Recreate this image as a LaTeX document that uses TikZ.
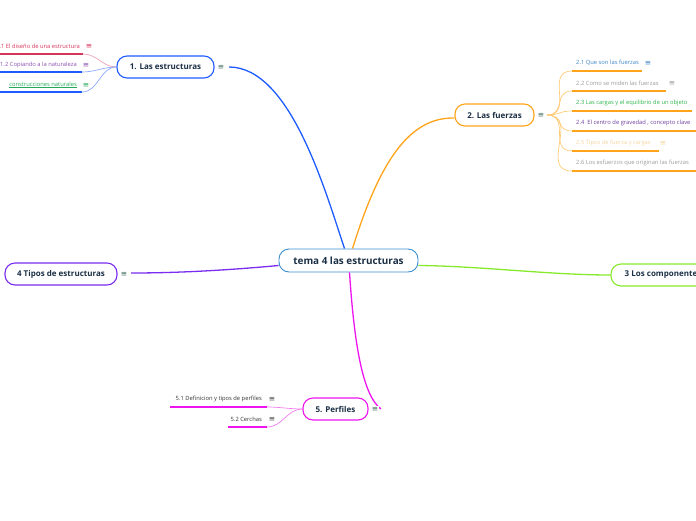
\documentclass[tikz,border=0pt]{standalone}
\usepackage{fontspec}
\setmainfont{Open Sans}
\setsansfont{Open Sans}
\newfontfamily\symfont{DejaVu Sans}
\usetikzlibrary{positioning}
\definecolor{cText}{HTML}{1B2F45}
\definecolor{cIcon}{HTML}{3F6A5C}
\definecolor{cMain}{HTML}{3A8FD0}
\definecolor{cEst}{HTML}{1F5CFF}
\definecolor{cFuer}{HTML}{FFA31A}
\definecolor{cFuerL}{HTML}{FFCB78}
\definecolor{cTip}{HTML}{7A2CF0}
\definecolor{cComp}{HTML}{86EA2C}
\definecolor{cPerf}{HTML}{EE14EE}
\definecolor{cPerfL}{HTML}{F27EF2}
\definecolor{cRed}{HTML}{D6345A}
\definecolor{cRedL}{HTML}{EBA2B4}
\definecolor{cBlueL}{HTML}{8DA9FF}
\definecolor{cPur}{HTML}{8A4FB0}
\definecolor{cGreen}{HTML}{23A85A}
\definecolor{cSkyT}{HTML}{3D85C6}
\definecolor{cGrayT}{HTML}{9A9A9A}
\definecolor{cLeaf}{HTML}{2DB34A}
\definecolor{cViol}{HTML}{6E3FA0}
\definecolor{cPale}{HTML}{F3D5A0}

\begin{document}
\begin{tikzpicture}[
  x=1pt, y=-1pt,
  topic/.style={rectangle, rounded corners=10pt, draw, line width=1.1pt, fill=white, minimum height=22pt, inner sep=0pt, font=\sffamily\bfseries\fontsize{8}{9}\selectfont, text=cText},
  sub/.style={inner sep=0pt, font=\sffamily\fontsize{5.8}{6.5}\selectfont},
  icon/.style={inner sep=0.6pt, fill=white, font=\symfont\fontsize{7.5}{7.5}\selectfont, text=cIcon},
  branch/.style={line width=1.3pt},
  twig/.style={line width=0.7pt},
  uline/.style={line width=1.8pt}
]
\useasboundingbox (0,0) rectangle (696,520);

% central topic
\node[topic, draw=cMain, line width=0.9pt, minimum width=139pt, minimum height=23pt, font=\sffamily\bfseries\fontsize{9.9}{11}\selectfont] (C) at (348.5,260.5) {tema 4 las estructuras};

% main topics
\node[topic, draw=cEst, minimum width=97pt] (T1) at (165.5,67) {1. Las estructuras};
\node[topic, draw=cFuer, minimum width=79pt] (T2) at (494.5,115) {2. Las fuerzas};
\node[topic, draw=cComp, minimum width=104pt, align=left] (T3) at (663,275) {3 Los componentes};
\node[topic, draw=cTip, minimum width=112pt] (T4) at (61,274) {4 Tipos de estructuras};
\node[topic, draw=cPerf, minimum width=65pt] (T5) at (335.5,409) {5. Perfiles};

% branches
\coordinate (b1) at (229,67);
\coordinate (b4) at (131,273);
\coordinate (b5) at (381,409);
\draw[branch, cEst] ([xshift=-4pt]C.north) .. controls (325,190) and (290,67) .. (b1);
\draw[branch, cFuer] ([xshift=4pt]C.north) .. controls (380,160) and (410,117) .. ([yshift=-3pt]T2.west);
\draw[branch, cTip] ([yshift=-5pt]C.west) .. controls (230,270) and (180,273) .. (b4);
\draw[branch, cComp] ([yshift=-5pt]C.east) .. controls (480,266) and (550,275) .. (T3.west);
\draw[branch, cPerf] ([xshift=1pt]C.south) .. controls (354,340) and (362,395) .. (b5);

\node[icon] (i1) at (221,67) {≡};
\node[icon] (i2) at (541,115) {≡};
\node[icon] (i4) at (124,274) {≡};
\node[icon] (i5) at (375,409) {≡};

% 1. Las estructuras
\node[sub, anchor=east, text=cRed] (s11) at (80,46) {1.1 El diseño de una estructura};
\node[sub, anchor=east, text=cPur] (s12) at (77,65) {1.2 Copiando a la naturaleza};
\node[sub, anchor=east, text=cGreen] (s13) at (77,85) {\underline{construcciones naturales}};
\node[icon, text=cRed] (i11) at (89,46) {≡};
\node[icon, text=cPur] (i12) at (86,65) {≡};
\node[icon, text=cGreen] (i13) at (86,85) {≡};
\coordinate (u11) at (83,54);
\coordinate (u12) at (82,72);
\coordinate (u13) at (82,92);
\draw[uline, cRed] (u11) -- (0,54);
\draw[uline, cEst] (u12) -- (0,72);
\draw[uline, cEst] (u13) -- (0,92);
\draw[twig, cRedL] (T1.west) to[out=180, in=0] (u11);
\draw[twig, cBlueL] (T1.west) to[out=180, in=0] (u12);
\draw[twig, cBlueL] (T1.west) to[out=180, in=0] (u13);

% 2. Las fuerzas
\coordinate (f0) at (547,115);
\node[sub, anchor=west, text=cSkyT] (s21) at (576,63) {2.1 Que son las fuerzas};
\node[sub, anchor=west, text=cGrayT] (s22) at (576,83) {2.2 Como se miden las fuerzas};
\node[sub, anchor=west, text=cLeaf] (s23) at (576,103) {2.3 Las cargas y el equilibrio de un objeto};
\node[sub, anchor=west, text=cViol] (s24) at (576,123) {2.4\ \ El centro de gravedad , concepto clave};
\node[sub, anchor=west, text=cPale] (s25) at (576,143) {2.5 Tipos de fuerza y cargas};
\node[sub, anchor=west, text=cGrayT] (s26) at (576,163) {2.6 Los esfuerzos que originan las fuerzas};
\node[icon, text=cSkyT] (i21) at (648,63) {≡};
\node[icon, text=cGrayT] (i22) at (672,83) {≡};
\node[icon, text=cPale] (i25) at (663,143) {≡};
\foreach \k/\y/\e in {1/71/642, 2/91/666, 3/111/692, 4/131/697, 5/151/659, 6/171/697} {
  \coordinate (u2\k) at (572,\y);
  \draw[uline, cFuer] (u2\k) -- (\e,\y);
  \draw[twig, cFuerL] (f0) to[out=0, in=180, looseness=1.4] (u2\k);
}

% 5. Perfiles
\node[sub, anchor=east, text=black!80] (s51) at (262,399) {5.1 Definicion y tipos de perfiles};
\node[sub, anchor=east, text=black!80] (s52) at (262,419) {5.2 Cerchas};
\node[icon, text=black!75] (i51) at (272,399) {≡};
\node[icon, text=black!75] (i52) at (272,419) {≡};
\coordinate (u51) at (267,407);
\coordinate (u52) at (267,427);
\draw[uline, cPerf] (u51) -- (170,407);
\draw[uline, cPerf] (u52) -- (228,427);
\draw[twig, cPerfL] (T5.west) to[out=180, in=0] (u51);
\draw[twig, cPerfL] (T5.west) to[out=180, in=0] (u52);
\end{tikzpicture}
\end{document}
